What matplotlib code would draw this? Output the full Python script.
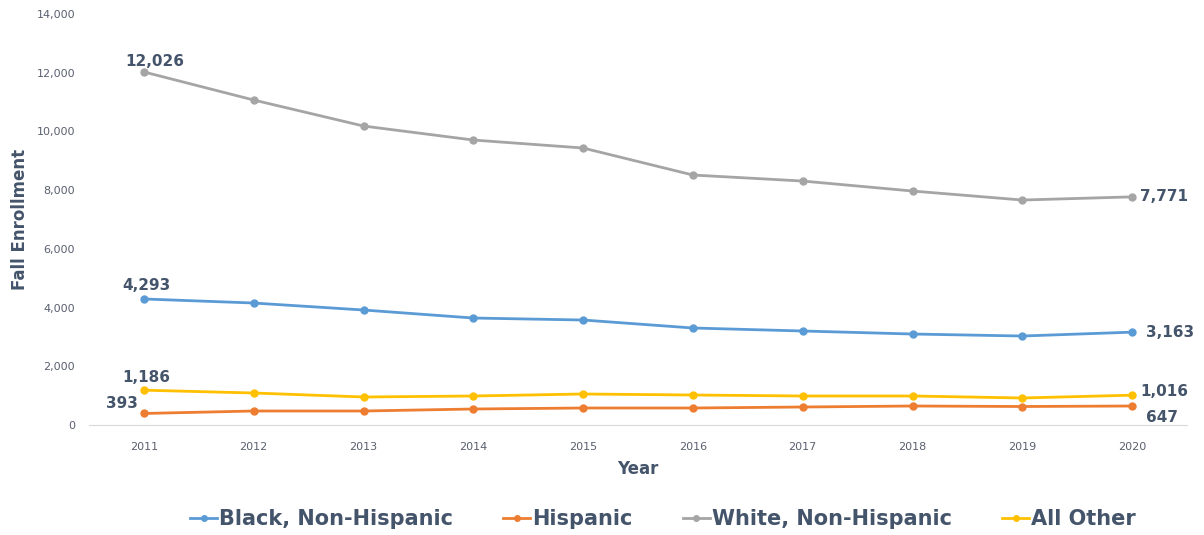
import numpy as np
import matplotlib
matplotlib.use("Agg")
import matplotlib.pyplot as plt
from matplotlib.ticker import FuncFormatter

# fall enrollment by group, 2011-2020
years = ['2011', '2012', '2013', '2014', '2015', '2016', '2017', '2018', '2019', '2020']
black = [4293, 4155, 3917, 3644, 3576, 3304, 3202, 3099, 3031, 3163]
hispanic = [393, 477, 477, 545, 579, 579, 613, 647, 630, 647]
white = [12026, 11070, 10184, 9707, 9435, 8515, 8310, 7970, 7663, 7771]
other = [1186, 1090, 954, 988, 1056, 1022, 988, 988, 920, 1016]
names = ['Black, Non-Hispanic', 'Hispanic', 'White, Non-Hispanic', 'All Other']

text_col = '#44546A'
tick_col = '#595F6E'
colors = ['#5B9BD5', '#ED7D31', '#A5A5A5', '#FFC000']

fig = plt.figure(figsize=(12.04, 5.35), dpi=100)
ax = fig.add_axes([89 / 1204, 1 - 425 / 535, (1187 - 89) / 1204, (425 - 14) / 535])

x = np.arange(len(years))
series = [black, hispanic, white, other]
for vals, col, name in zip(series, colors, names):
    ax.plot(x, vals, color=col, lw=2.0, marker='o', ms=5, label=name)

ax.set_xlim(-0.5, len(years) - 0.5)
ax.set_ylim(0, 14000)
ax.set_yticks(np.arange(0, 14001, 2000))
ax.yaxis.set_major_formatter(FuncFormatter(lambda v, p: '{:,.0f}'.format(v)))
ax.set_xticks(x)
ax.set_xticklabels(years)
ax.tick_params(length=0, labelsize=8, colors=tick_col)
ax.tick_params(axis='y', pad=10)
ax.tick_params(axis='x', pad=12)

for s in ['top', 'right', 'left']:
    ax.spines[s].set_visible(False)
ax.spines['bottom'].set_color('#D9D9D9')

ax.set_ylabel('Fall Enrollment', fontsize=12, fontweight='bold', color=text_col)
ax.yaxis.set_label_coords(-0.055, 0.5)
ax.set_xlabel('Year', fontsize=12, fontweight='bold', color=text_col, labelpad=6)

# first / last value labels
lab = dict(fontsize=11, fontweight='bold', color=text_col)
ax.annotate('{:,}'.format(white[0]), (x[0], white[0]), xytext=(8, 2), textcoords='offset points', ha='center', va='bottom', **lab)
ax.annotate('{:,}'.format(black[0]), (x[0], black[0]), xytext=(2, 4), textcoords='offset points', ha='center', va='bottom', **lab)
ax.annotate('{:,}'.format(other[0]), (x[0], other[0]), xytext=(2, 4), textcoords='offset points', ha='center', va='bottom', **lab)
ax.annotate('{:,}'.format(hispanic[0]), (x[0], hispanic[0]), xytext=(-4, 2), textcoords='offset points', ha='right', va='bottom', **lab)
ax.annotate('{:,}'.format(white[-1]), (x[-1], white[-1]), xytext=(6, 0), textcoords='offset points', ha='left', va='center', **lab)
ax.annotate('{:,}'.format(black[-1]), (x[-1], black[-1]), xytext=(10, 0), textcoords='offset points', ha='left', va='center', **lab)
ax.annotate('{:,}'.format(other[-1]), (x[-1], other[-1]), xytext=(6, 3), textcoords='offset points', ha='left', va='center', **lab)
ax.annotate('{:,}'.format(hispanic[-1]), (x[-1], hispanic[-1]), xytext=(10, -8), textcoords='offset points', ha='left', va='center', **lab)

leg = fig.legend(loc='center', bbox_to_anchor=(663 / 1204, 1 - 519 / 535), ncol=4, frameon=False,
                 handlelength=1.3, handletextpad=0.1, columnspacing=2.4,
                 prop=dict(size=15, weight='bold'))
for t in leg.get_texts():
    t.set_color(text_col)
for h in leg.get_lines():
    h.set_markersize(4)

fig.savefig('out.png', dpi=100)
